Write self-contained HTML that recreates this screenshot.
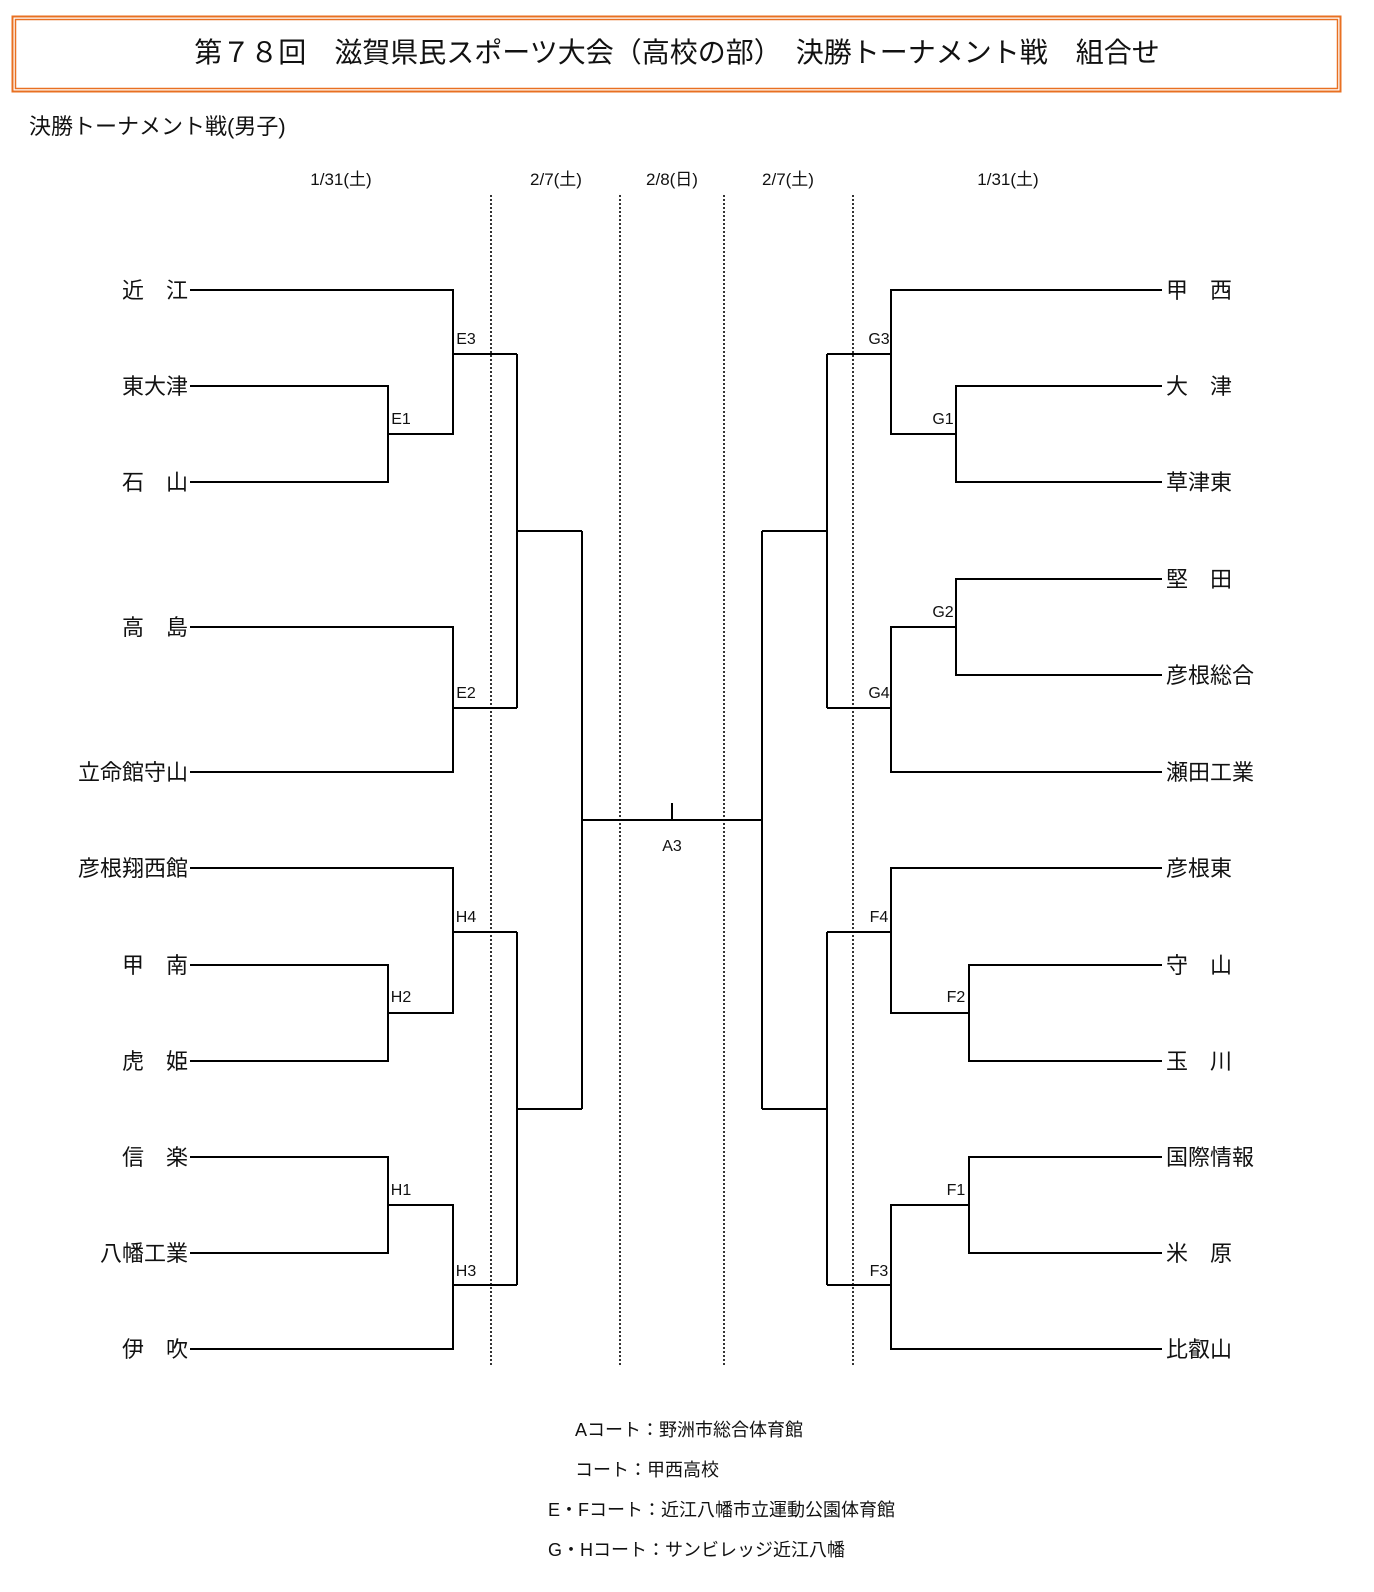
<!DOCTYPE html>
<html><head><meta charset="utf-8"><style>
html,body{margin:0;padding:0;background:#fff;width:100%;height:100%;overflow:hidden;}
svg{display:block;position:fixed;left:0;top:0;width:100vw;height:100vh;}
text{font-family:"Liberation Sans","Noto Sans CJK JP",sans-serif;fill:#111;}
.t{font-size:22px;}
.l{font-size:16px;}
.d{font-size:17px;}
.f{font-size:18px;}
</style></head><body>
<svg viewBox="0 0 1374 1592" preserveAspectRatio="none" xmlns="http://www.w3.org/2000/svg">
<rect x="12.5" y="16.5" width="1328" height="75" fill="none" stroke="#e87022" stroke-width="2"/>
<rect x="15.5" y="19.5" width="1322" height="69" fill="none" stroke="#e87022" stroke-width="1.5"/>
<text x="677" y="62" text-anchor="middle" font-size="28">第７８回　滋賀県民スポーツ大会（高校の部）　決勝トーナメント戦　組合せ</text>
<text x="29" y="134" font-size="22">決勝トーナメント戦(男子)</text>
<g class="d" text-anchor="middle">
<text x="341" y="185">1/31(土)</text><text x="556" y="185">2/7(土)</text><text x="672" y="185">2/8(日)</text><text x="788" y="185">2/7(土)</text><text x="1008" y="185">1/31(土)</text>
</g>
<g stroke="#333" stroke-width="2" stroke-dasharray="2,2">
<line x1="491" y1="195" x2="491" y2="1365"/><line x1="620" y1="195" x2="620" y2="1365"/><line x1="724" y1="195" x2="724" y2="1365"/><line x1="853" y1="195" x2="853" y2="1365"/>
</g>
<g fill="none" stroke="#000" stroke-width="2">
<polyline points="190,290 453,290 453,434 388,434"/>
<polyline points="190,386 388,386 388,482 190,482"/>
<polyline points="453,354 517,354"/>
<polyline points="190,627 453,627 453,772 190,772"/>
<polyline points="453,708 517,708"/>
<polyline points="517,354 517,708"/>
<polyline points="517,531 582,531"/>
<polyline points="190,868 453,868 453,1013 388,1013"/>
<polyline points="190,965 388,965 388,1061 190,1061"/>
<polyline points="453,932 517,932"/>
<polyline points="190,1157 388,1157 388,1253 190,1253"/>
<polyline points="388,1205 453,1205 453,1349 190,1349"/>
<polyline points="453,1285 517,1285"/>
<polyline points="517,932 517,1285"/>
<polyline points="517,1109 582,1109"/>
<polyline points="582,531 582,1109"/>
<polyline points="582,820 762,820"/>
<polyline points="672,803 672,820"/>
<polyline points="1162,290 891,290 891,434 956,434"/>
<polyline points="1162,386 956,386 956,482 1162,482"/>
<polyline points="891,354 827,354"/>
<polyline points="1162,579 956,579 956,675 1162,675"/>
<polyline points="956,627 891,627 891,772 1162,772"/>
<polyline points="891,708 827,708"/>
<polyline points="827,354 827,708"/>
<polyline points="827,531 762,531"/>
<polyline points="1162,868 891,868 891,1013 969,1013"/>
<polyline points="1162,965 969,965 969,1061 1162,1061"/>
<polyline points="891,932 827,932"/>
<polyline points="1162,1157 969,1157 969,1253 1162,1253"/>
<polyline points="969,1205 891,1205 891,1349 1162,1349"/>
<polyline points="891,1285 827,1285"/>
<polyline points="827,932 827,1285"/>
<polyline points="827,1109 762,1109"/>
<polyline points="762,531 762,1109"/>
</g>
<g class="t" text-anchor="end">
<text x="188" y="298">近　江</text><text x="188" y="394">東大津</text><text x="188" y="490">石　山</text>
<text x="188" y="635">高　島</text><text x="188" y="780">立命館守山</text><text x="188" y="876">彦根翔西館</text>
<text x="188" y="973">甲　南</text><text x="188" y="1069">虎　姫</text><text x="188" y="1165">信　楽</text>
<text x="188" y="1261">八幡工業</text><text x="188" y="1357">伊　吹</text>
</g>
<g class="t">
<text x="1166" y="298">甲　西</text><text x="1166" y="394">大　津</text><text x="1166" y="490">草津東</text>
<text x="1166" y="587">堅　田</text><text x="1166" y="683">彦根総合</text><text x="1166" y="780">瀬田工業</text>
<text x="1166" y="876">彦根東</text><text x="1166" y="973">守　山</text><text x="1166" y="1069">玉　川</text>
<text x="1166" y="1165">国際情報</text><text x="1166" y="1261">米　原</text><text x="1166" y="1357">比叡山</text>
</g>
<g class="l" text-anchor="middle">
<text x="466" y="344">E3</text><text x="401" y="424">E1</text><text x="466" y="698">E2</text>
<text x="466" y="922">H4</text><text x="401" y="1002">H2</text><text x="401" y="1195">H1</text><text x="466" y="1276">H3</text>
<text x="672" y="851">A3</text>
<text x="879" y="344">G3</text><text x="943" y="424">G1</text><text x="943" y="617">G2</text><text x="879" y="698">G4</text>
<text x="879" y="922">F4</text><text x="956" y="1002">F2</text><text x="956" y="1195">F1</text><text x="879" y="1276">F3</text>
</g>
<g class="f">
<text x="575" y="1436">Aコート：野洲市総合体育館</text>
<text x="575" y="1476">コート：甲西高校</text>
<text x="548" y="1516">E・Fコート：近江八幡市立運動公園体育館</text>
<text x="548" y="1556">G・Hコート：サンビレッジ近江八幡</text>
</g>
</svg>
</body></html>
